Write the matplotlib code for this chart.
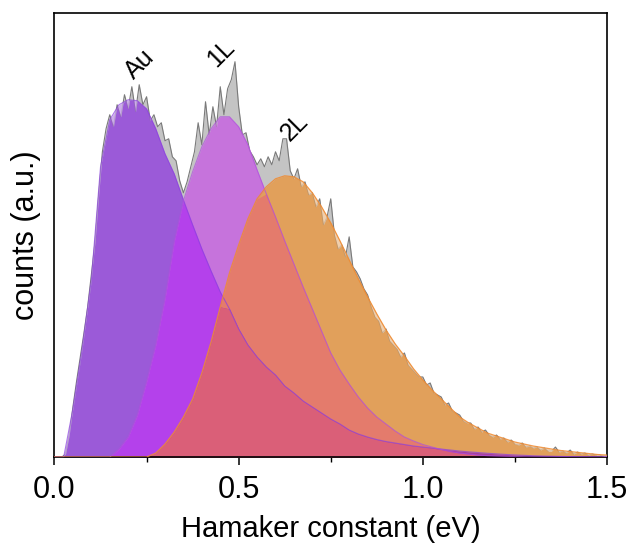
import numpy as np
import matplotlib
matplotlib.use("Agg")
from matplotlib import pyplot as plt
from matplotlib.patches import Polygon

plt.rcParams['font.family'] = ['Liberation Sans', 'DejaVu Sans']

# fitted peaks, sampled every 0.025 eV from 0 to 1.5
x_fit = np.linspace(0, 1.5, 61)
au = [0, 0, 48, 108, 177, 290, 337, 352, 357, 356, 348, 328, 303, 283, 257, 232,
      208, 186, 165, 148, 128, 112, 100, 90, 82, 71, 64, 56, 50, 44, 38, 33, 27,
      23, 20, 17.5, 15.5, 14, 12.5, 11, 10, 9, 8, 7, 6, 5.2, 4.5, 3.8, 3.2, 2.6,
      2.1, 1.7, 1.3, 1.0, 0.8, 0.6, 0.4, 0.3, 0.2, 0.1, 0.1]
one_l = [0, 0, 0, 0, 0, 0, 0, 8, 20, 42, 75, 112, 158, 215, 256, 285, 310, 328,
         340, 340, 330, 312, 287, 263, 240, 216, 193, 170, 148, 126, 104, 87, 73,
         60, 49, 40, 33, 26, 20, 16, 12.5, 10, 7.5, 5.5, 4, 3, 2, 1.4, 1, 0.7,
         0.5, 0.3, 0.2, 0.1, 0, 0, 0, 0, 0, 0, 0]
two_l = [0, 0, 0, 0, 0, 0, 0, 0, 0, 0, 0, 4, 13, 25, 40, 58, 84, 115, 150, 184,
         212, 238, 258, 270, 278, 281, 280, 275, 264, 250, 234, 216, 197, 178,
         160, 143, 127, 113, 101, 88, 77, 67, 58, 49, 40, 34, 29, 24, 21, 18, 15,
         13, 11, 9.5, 8, 6.5, 5.5, 4.5, 3.5, 2.5, 2]

# measured histogram, bins every 0.01 eV
x_hist = np.linspace(0, 1.5, 151)
counts = [0, 0, 0, 3, 22, 50, 76, 100, 124, 150,
          182, 215, 262, 305, 328, 342, 330, 352, 340, 362,
          348, 370, 345, 372, 352, 360, 336, 342, 330, 334,
          316, 318, 300, 296, 276, 264, 275, 290, 305, 334,
          312, 355, 322, 350, 330, 370, 342, 368, 377, 395,
          350, 322, 324, 306, 300, 292, 298, 290, 300, 292,
          305, 296, 318, 318, 286, 278, 288, 270, 275, 262,
          264, 250, 258, 232, 240, 258, 222, 208, 212, 200,
          220, 190, 185, 178, 168, 162, 150, 140, 136, 124,
          128, 116, 112, 108, 100, 104, 92, 88, 84, 80,
          80, 72, 74, 64, 62, 60, 52, 54, 46, 44,
          42, 36, 34, 34, 28, 30, 25, 27, 22, 20,
          22, 18, 19, 15, 17, 13, 12, 14, 10, 11,
          9, 10, 7, 9, 6, 6, 10, 5, 6, 4,
          7, 3, 5, 3, 4, 2, 3, 2, 2, 1, 1]

labels = ["Au", "1L", "2L"]
label_pos = [(0.232, 392), (0.452, 403), (0.652, 330)]

a = np.array(au)
b = np.array(one_l)
c = np.array(two_l)
h = np.array(counts)

fig = plt.figure(figsize=(6.3, 5.5), dpi=100)
ax = fig.add_axes([0.0865, 0.169, 0.877, 0.808])

# histogram (only visible above the peaks)
ax.fill_between(x_hist, 0, h, color="#c4c4c4", lw=0, zorder=1)
ax.plot(x_hist, h, color="#7a7a7a", lw=0.8, zorder=1)

# peak areas, each overlap gets its own colour
ax.fill_between(x_fit, 0, a, color="#9b5ad8", lw=0, zorder=2)
ax.fill_between(x_fit, 0, b, color="#c673dc", lw=0, zorder=2)
ax.fill_between(x_fit, 0, np.minimum(a, b), color="#b441eb", lw=0, zorder=2)
ax.fill_between(x_fit, 0, c, color="#e1a05b", lw=0, zorder=2)
ax.fill_between(x_fit, 0, np.minimum(b, c), color="#e47b6c", lw=0, zorder=2)
ax.fill_between(x_fit, 0, np.minimum(a, c), color="#a8409c", lw=0, zorder=2)
ax.fill_between(x_fit, 0, np.minimum(np.minimum(a, b), c), color="#da5f78",
                lw=0, zorder=2)

# lighter notches where the histogram dips under the peaks
env = np.maximum(np.maximum(a, b), c)
verts = np.vstack([np.column_stack([x_fit, env]), [[1.5, 0], [0, 0]]])
clip = Polygon(verts, closed=True, transform=ax.transData)
notch = ax.fill_between(x_hist, h, 450, color="white", alpha=0.5, lw=0, zorder=3)
notch.set_clip_path(clip)
inner, = ax.plot(x_hist, h, color="#808080", lw=0.6, alpha=0.35, zorder=3)
inner.set_clip_path(clip)

ax.plot(x_fit, a, color="#8a3ee0", lw=0.8, alpha=0.7, zorder=4)
ax.plot(x_fit, b, color="#b04ce0", lw=0.8, alpha=0.7, zorder=4)
ax.plot(x_fit, c, color="#f08a30", lw=0.9, alpha=0.85, zorder=4)

for t, (px, py) in zip(labels, label_pos):
    ax.text(px, py, t, rotation=45, fontsize=18, ha="center", va="center")

ax.set_xlim(0, 1.5)
ax.set_ylim(0, 444)
ax.set_xticks([0, 0.5, 1.0, 1.5])
ax.set_xticklabels(["0.0", "0.5", "1.0", "1.5"])
ax.set_xticks([0.25, 0.75, 1.25], minor=True)
ax.set_yticks([])
ax.tick_params(axis="x", which="major", length=6, width=1.1, labelsize=22, pad=7)
ax.tick_params(axis="x", which="minor", length=3.5, width=1.0)
for s in ax.spines.values():
    s.set_linewidth(1.2)
ax.set_xlabel("Hamaker constant (eV)", fontsize=21, labelpad=7)
ax.set_ylabel("counts (a.u.)", fontsize=22, labelpad=10)

plt.savefig("out.png", dpi=100)
